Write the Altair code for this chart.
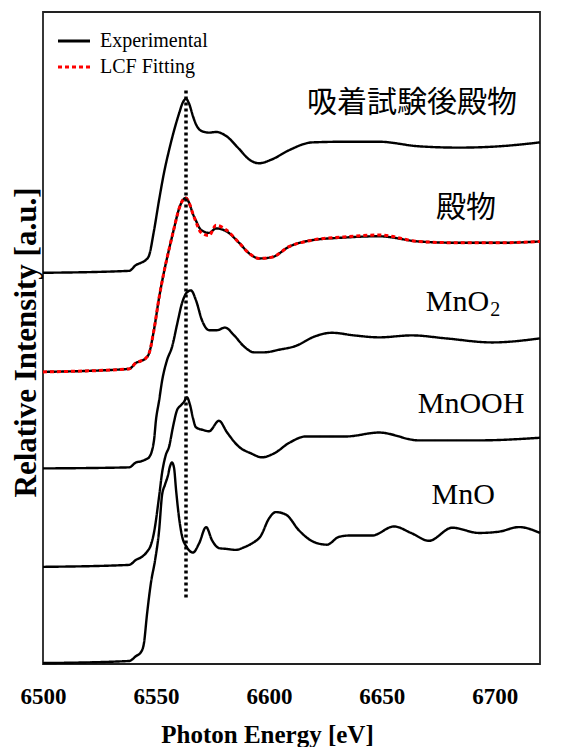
import altair as alt
import pandas as pd

# ---------------- data ----------------
samples = ["吸着試験後殿物", "殿物", "MnO2", "MnOOH", "MnO"]
offsets = [3.0, 2.24, 1.5, 0.745, 0.015]

e_s1 = [6500, 6538.1, 6541.2, 6543.4, 6545.6, 6546.9, 6549.1, 6551.4, 6553.6, 6555.8,
        6558.0, 6560.2, 6562.0, 6563.3, 6564.6, 6566.4, 6567.7, 6569.9, 6573.5, 6576.6,
        6581.0, 6586.8, 6591.2, 6595.6, 6601.4, 6608.9, 6619.1, 6633.2, 6648.7, 6666.4,
        6684.2, 6701.9, 6720.0]
mu_s1 = [0.0, 0.015, 0.06, 0.077, 0.10, 0.13, 0.32, 0.56, 0.77, 0.94,
         1.09, 1.22, 1.31, 1.334, 1.30, 1.20, 1.14, 1.09, 1.075, 1.08,
         1.05, 0.95, 0.87, 0.84, 0.87, 0.94, 1.0, 1.005, 1.005, 0.97,
         0.96, 0.97, 1.0]

e_s2 = e_s1
mu_s2 = [0.0, 0.023, 0.07, 0.084, 0.107, 0.14, 0.32, 0.57, 0.77, 0.94,
         1.10, 1.25, 1.32, 1.334, 1.30, 1.21, 1.16, 1.09, 1.066, 1.10,
         1.08, 0.99, 0.91, 0.87, 0.88, 0.96, 1.01, 1.03, 1.04, 1.0,
         0.99, 0.99, 1.0]
mu_fit = [0.0, 0.023, 0.07, 0.084, 0.107, 0.14, 0.32, 0.57, 0.77, 0.94,
          1.10, 1.25, 1.32, 1.334, 1.30, 1.21, 1.15, 1.07, 1.045, 1.125,
          1.09, 0.99, 0.91, 0.87, 0.88, 0.96, 1.01, 1.035, 1.05, 1.0,
          0.99, 0.99, 1.0]

e_mno2 = [6500, 6538.1, 6541.2, 6543.4, 6545.6, 6546.9, 6549.1, 6550.0, 6551.4, 6552.7,
          6554.9, 6557.1, 6559.3, 6561.5, 6563.7, 6565.5, 6567.7, 6570.4, 6573.5, 6577.0,
          6580.6, 6584.6, 6589.0, 6593.4, 6597.8, 6604.5, 6612.0, 6620.0, 6627.9, 6637.7,
          6648.7, 6663.3, 6678.4, 6698.8, 6720.0]
mu_mno2 = [0.0, 0.008, 0.046, 0.054, 0.07, 0.084, 0.21, 0.37, 0.52, 0.67,
           0.83, 0.93, 1.10, 1.265, 1.35, 1.365, 1.29, 1.135, 1.06, 1.06,
           1.08, 1.02, 0.935, 0.89, 0.89, 0.91, 0.94, 1.01, 1.04, 1.02,
           1.005, 1.02, 0.997, 0.966, 0.997]

e_mnooh = [6500, 6538.1, 6541.2, 6543.8, 6546.0, 6547.8, 6549.1, 6551.4, 6552.7, 6554.4,
           6555.8, 6557.5, 6559.3, 6561.1, 6562.4, 6563.7, 6565.1, 6566.4, 6567.7, 6570.8,
           6573.5, 6577.9, 6581.5, 6586.8, 6592.1, 6596.9, 6602.3, 6608.9, 6616.4, 6634.1,
           6648.7, 6666.4, 6693.0, 6720.0]
mu_mnooh = [0.0, 0.015, 0.054, 0.077, 0.115, 0.17, 0.26, 0.54, 0.72, 0.86,
            0.92, 1.07, 1.20, 1.24, 1.265, 1.30, 1.24, 1.14, 1.07, 1.05,
            1.04, 1.12, 1.03, 0.92, 0.87, 0.84, 0.87, 0.95, 1.0, 1.0,
            1.03, 0.97, 0.97, 0.99]

e_mno = [6500, 6538.1, 6541.2, 6543.4, 6544.7, 6546.0, 6547.8, 6549.6, 6551.4, 6552.7,
         6554.0, 6555.3, 6556.2, 6557.1, 6558.0, 6558.9, 6560.2, 6561.5, 6563.7, 6566.4,
         6569.1, 6572.2, 6574.8, 6577.9, 6581.5, 6585.4, 6589.0, 6592.5, 6596.5, 6600.0,
         6603.1, 6607.6, 6613.3, 6620.0, 6625.7, 6631.0, 6635.5, 6645.6, 6655.4, 6662.9,
         6670.9, 6681.1, 6693.0, 6701.9, 6710.7, 6720.0]
mu_mno = [-0.008, 0.008, 0.046, 0.077, 0.146, 0.36, 0.61, 0.78, 1.01, 1.28,
          1.36, 1.43, 1.50, 1.53, 1.49, 1.32, 1.11, 0.97, 0.88, 0.84,
          0.91, 1.035, 0.935, 0.874, 0.867, 0.86, 0.88, 0.91, 0.97, 1.10,
          1.15, 1.13, 1.01, 0.92, 0.90, 0.96, 0.97, 0.97, 1.04, 0.99,
          0.93, 1.03, 0.99, 1.0, 1.035, 0.99]

# dotted reference line (photon energy of the main peak)
peak_energy = [6563.3]
peak_y_from = [0.51]
peak_y_to = [4.42]

# sample labels
label_cjk_text = ["吸着試験後殿物", "殿物"]
label_cjk_x = [6663.3, 6687.2]
label_cjk_y = [4.30, 3.50]
label_lat_text = ["MnOOH", "MnO"]
label_lat_x = [6689.5, 6686.0]
label_lat_y = [1.994, 1.296]
mno2_x = [6697.5]
mno2_y = [2.776]
mno2_sub_y = [2.715]

x_ticks = [6500, 6550, 6600, 6650, 6700]

# ---------------- build tables ----------------
rows = []
series = [(e_s1, mu_s1), (e_s2, mu_s2), (e_mno2, mu_mno2), (e_mnooh, mu_mnooh), (e_mno, mu_mno)]
for name, off, (es, ms) in zip(samples, offsets, series):
    for i, (e, m) in enumerate(zip(es, ms)):
        rows.append({"sample": name, "type": "Experimental", "energy": e,
                     "intensity": off + m, "order": i})
for i, (e, m) in enumerate(zip(e_s2, mu_fit)):
    rows.append({"sample": "殿物 LCF", "type": "LCF Fitting", "energy": e,
                 "intensity": offsets[1] + m, "order": i})
df = pd.DataFrame(rows)

df_rule = pd.DataFrame({"energy": peak_energy, "y1": peak_y_from, "y2": peak_y_to})
df_cjk = pd.DataFrame({"text": label_cjk_text, "energy": label_cjk_x, "intensity": label_cjk_y})
df_lat = pd.DataFrame({"text": label_lat_text, "energy": label_lat_x, "intensity": label_lat_y})
df_mno2 = pd.DataFrame({"text": ["MnO"], "energy": mno2_x, "intensity": mno2_y})
df_sub = pd.DataFrame({"text": ["2"], "energy": mno2_x, "intensity": mno2_sub_y})

SERIF = "'Times New Roman', 'Liberation Serif', Tinos, serif"

x_scale = alt.Scale(domain=[6500, 6720], nice=False, zero=False)
y_scale = alt.Scale(domain=[0, 5], nice=False, zero=False)

x_enc = alt.X("energy:Q", scale=x_scale,
              axis=alt.Axis(values=x_ticks, format="d", title="Photon Energy [eV]",
                            ticks=False, grid=False, domain=False,
                            labelFont=SERIF, labelFontWeight="bold", labelFontSize=23,
                            labelColor="black", labelPadding=21, labelFlush=False,
                            labelOverlap=False,
                            titleFont=SERIF, titleFontWeight="bold", titleFontSize=25,
                            titleColor="black", titlePadding=14, titleX=224))
y_enc = alt.Y("intensity:Q", scale=y_scale,
              axis=alt.Axis(title="Relative Intensity [a.u.]", labels=False, ticks=False,
                            grid=False, domain=False,
                            titleFont=SERIF, titleFontWeight="bold", titleFontSize=31,
                            titleColor="black", titlePadding=1, titleY=330))

color_enc = alt.Color("type:N",
                      scale=alt.Scale(domain=["Experimental", "LCF Fitting"], range=["black", "#ff0000"]),
                      legend=alt.Legend(title=None, orient="none", legendX=19, legendY=17,
                                        symbolType="M-1.6,0L1.6,0", symbolSize=400,
                                        symbolStrokeWidth=3.2, labelFont=SERIF,
                                        labelFontSize=20, labelColor="black",
                                        labelOffset=14, padding=0, rowPadding=4))
dash_enc = alt.StrokeDash("type:N",
                          scale=alt.Scale(domain=["Experimental", "LCF Fitting"],
                                          range=[[1, 0], [4, 3]]))

lines_exp = alt.Chart(df).transform_filter(alt.datum.type == "Experimental").mark_line(
    strokeWidth=2.4, interpolate="monotone"
).encode(x=x_enc, y=y_enc, color=color_enc, strokeDash=dash_enc,
         detail="sample:N", order="order:Q")

lines_fit = alt.Chart(df).transform_filter(alt.datum.type == "LCF Fitting").mark_line(
    strokeWidth=3, interpolate="monotone"
).encode(x=x_enc, y=y_enc, color=color_enc, strokeDash=dash_enc,
         detail="sample:N", order="order:Q")

rule = alt.Chart(df_rule).mark_rule(color="black", strokeWidth=3.5, strokeDash=[3, 3]).encode(
    x=alt.X("energy:Q", scale=x_scale), y=alt.Y("y1:Q", scale=y_scale), y2="y2:Q")

text_cjk = alt.Chart(df_cjk).mark_text(font="Noto Sans CJK JP", fontSize=30, color="black",
                                        align="center", baseline="middle").encode(
    x=alt.X("energy:Q", scale=x_scale), y=alt.Y("intensity:Q", scale=y_scale), text="text:N")

text_lat = alt.Chart(df_lat).mark_text(font=SERIF, fontSize=30, color="black",
                                        align="center", baseline="middle").encode(
    x=alt.X("energy:Q", scale=x_scale), y=alt.Y("intensity:Q", scale=y_scale), text="text:N")

text_mno2 = alt.Chart(df_mno2).mark_text(font=SERIF, fontSize=30, color="black",
                                          align="right", baseline="middle").encode(
    x=alt.X("energy:Q", scale=x_scale), y=alt.Y("intensity:Q", scale=y_scale), text="text:N")

text_sub = alt.Chart(df_sub).mark_text(font=SERIF, fontSize=20, color="black",
                                        align="left", baseline="middle", dx=1).encode(
    x=alt.X("energy:Q", scale=x_scale), y=alt.Y("intensity:Q", scale=y_scale), text="text:N")

chart = alt.layer(lines_exp, lines_fit, rule, text_cjk, text_lat, text_mno2, text_sub).properties(
    width=497, height=652,
    padding={"left": 2, "top": 4, "right": 5, "bottom": 0},
    background="white",
).configure_view(stroke="#222222", strokeWidth=1.8)

chart.save("out.html", embed_options={"renderer": "svg", "actions": False})
